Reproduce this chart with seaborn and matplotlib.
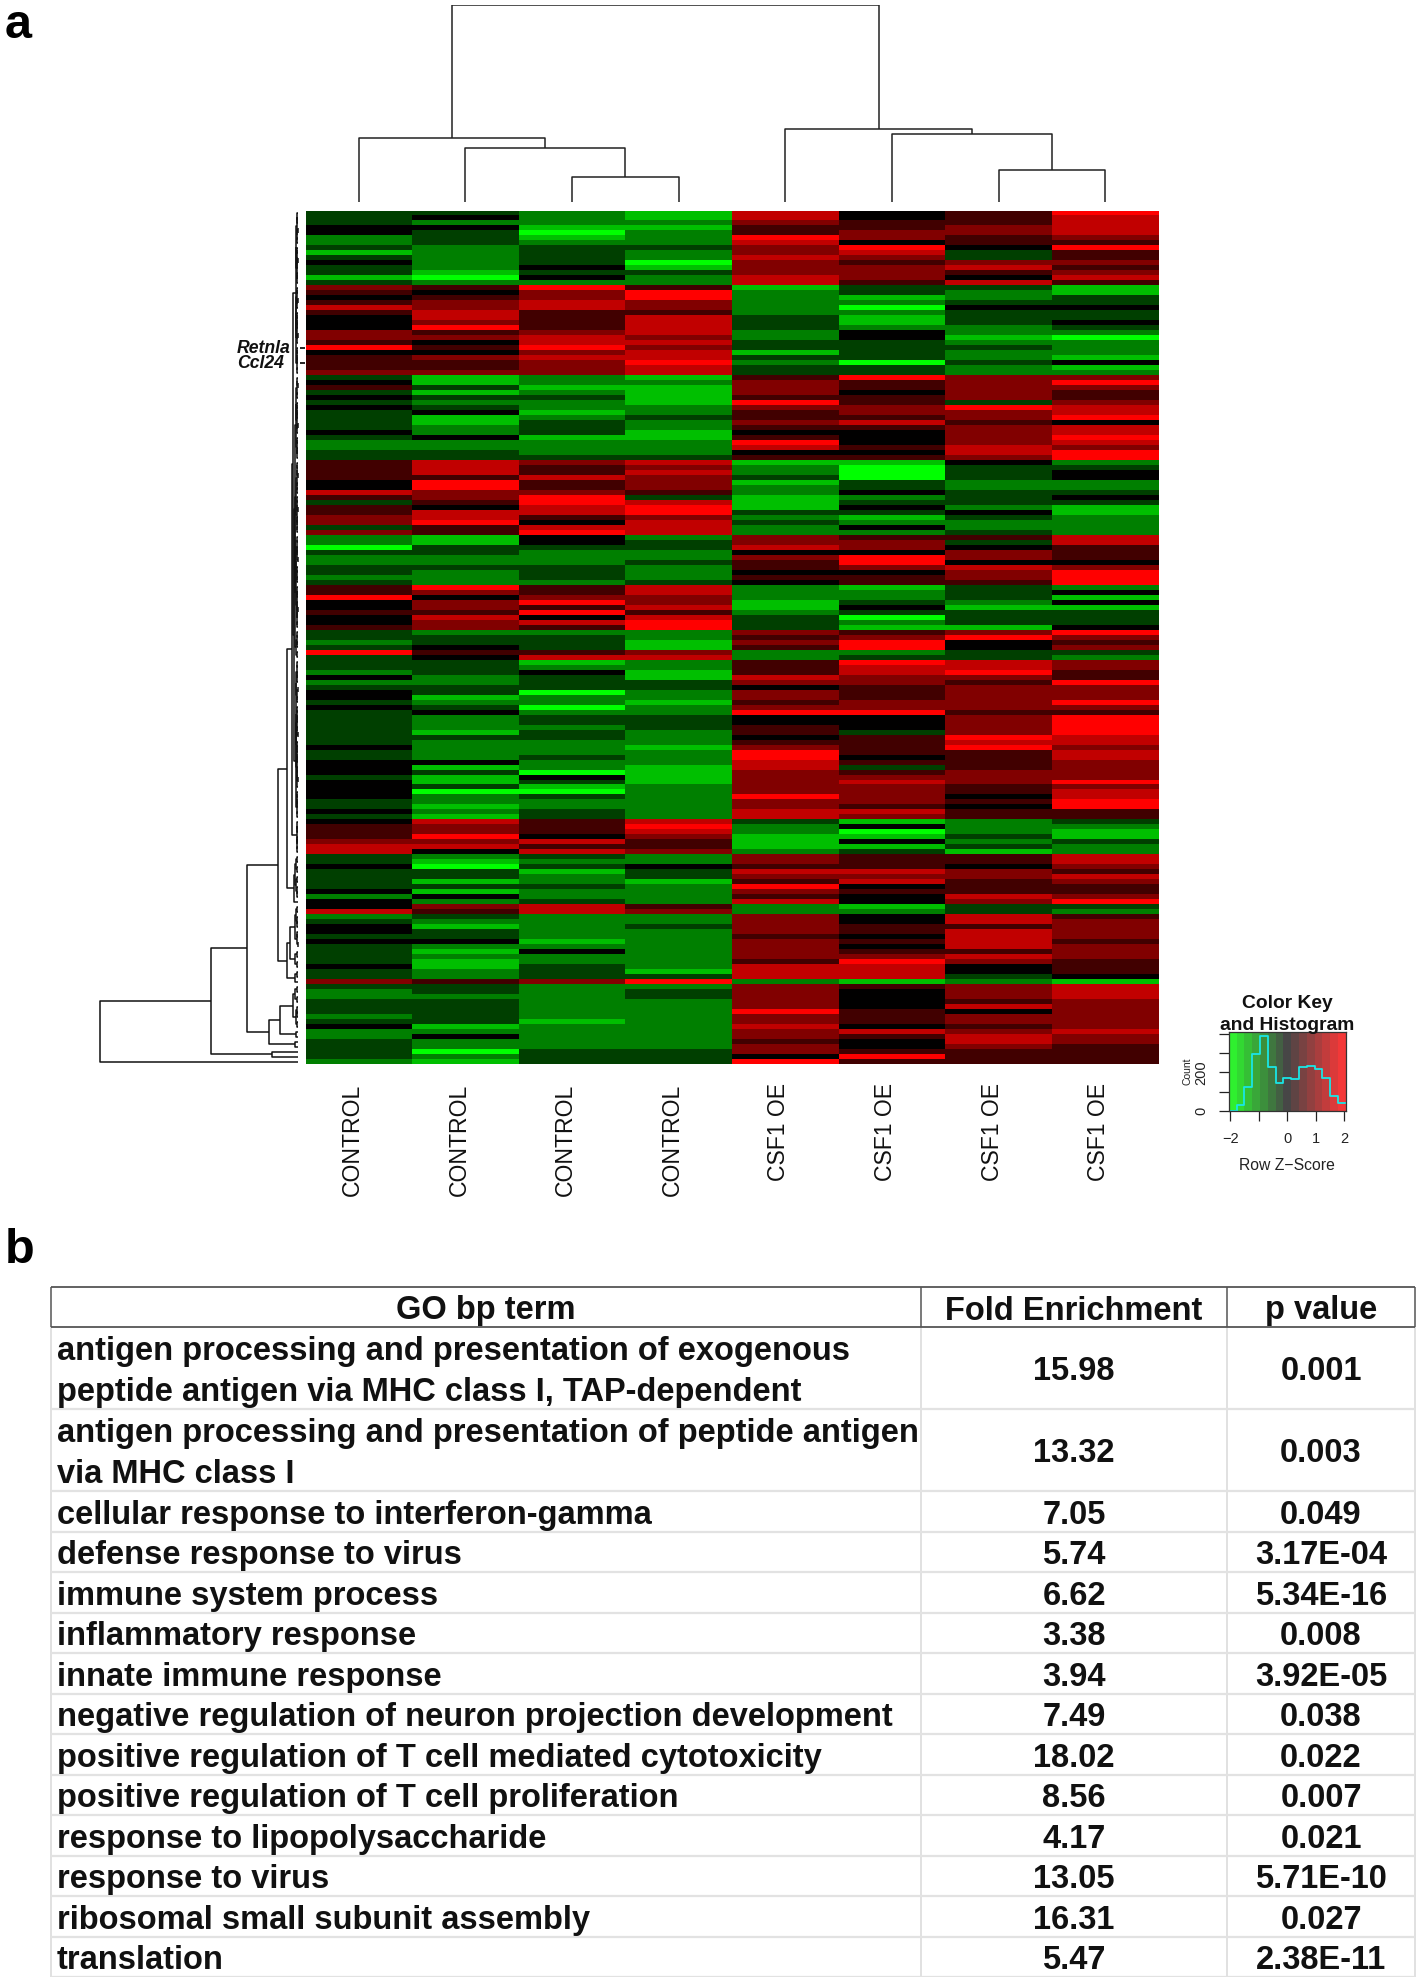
import matplotlib
matplotlib.use("Agg")
import matplotlib.pyplot as plt
from matplotlib.collections import LineCollection
from matplotlib.colors import LinearSegmentedColormap
from matplotlib.transforms import ScaledTranslation
import numpy as np
import pandas as pd
import seaborn as sns

# one digit per heatmap row, 0 = z -2 (green), 4 = z 0 (black), 8 = z +2 (red)
control_1 = (
    "333442231343313" "654575444665845556" "34534343333432233" "555544753556636"
    "2203223323" "558445445" "3323" "83"
    "3324234434" "3333333433" "4443444433" "43"
    "4555677" "3343333424" "47" "2344343333433" "6" "3223332342233332"
)
control_2 = (
    "342433322222102" "545667768564546556" "11313234112242233" "777588665477855"
    "1133223222" "864665766" "2334" "54"
    "3332233123" "4222132222" "4131130221" "21"
    "7668674" "2103313142" "65" "3213342121122" "5" "3323333312422021"
)
control_3 = (
    "222101233334342" "866775555677867666" "22123221233312223" "655755688775478"
    "4432223332" "556858475" "2333" "57"
    "1243330220" "2332332223" "2204310322" "33"
    "5554757" "3231223223" "77" "2222212422333" "6" "2222222122222333"
)
control_4 = (
    "112122232201322" "588665777767677877" "12111122322112223" "767666537886777"
    "2332232223" "776675788" "2211" "67"
    "2211332212" "2333222122" "2111122222" "22"
    "7876556" "2243312222" "56" "2232222222213" "8" "2332222222222333"
)
csf1_1 = (
    "776558766766677" "122222333223313233" "56665865565458745" "122312211132322"
    "6674655454" "222112333" "6565" "22"
    "5557646656" "8445545688" "7766666866" "77"
    "3221112" "6657658657" "22" "6666566665777" "2" "6666686676656648"
)
csf1_2 = (
    "445566487656665" "331202112443333033" "85545566575444545" "100033423431242"
    "5664886455" "122343021" "5688" "23"
    "8776655566" "8444355554" "5356766665" "76"
    "1401413" "5557674544" "12" "4455454568777" "1" "5444455547544585"
)
csf1_3 = (
    "555665543367547" "322343332212322322" "66666386656666776" "433322333243223"
    "5346647665" "333213331" "6844" "33"
    "7786566666" "5666687855" "5566655454" "55"
    "2223231" "5546655576" "33" "7757777576443" "2" "6665746656776555"
)
csf1_4 = (
    "877776585565675" "113343343202221412" "68655677847787688" "234422343112222"
    "7755546888" "241413334" "8656" "32"
    "6655866686" "5888877677" "6666867788" "55"
    "3211322" "7765765568" "32" "5666656665554" "1" "7776666667665555"
)
col_labels = ["CONTROL", "CONTROL", "CONTROL", "CONTROL", "CSF1 OE", "CSF1 OE", "CSF1 OE", "CSF1 OE"]

# dendrogram heights between neighbouring leaves
col_gaps = [64, 54, 25, 197, 73, 68, 32]
row_gaps = [
    1.0, 0.6, 1.4, 0.5, 1.1, 0.7, 1.8, 0.6, 1.2, 0.5, 0.9, 1.5, 0.7, 1.0, 2.5,
    0.8, 1.3, 0.5, 1.0, 1.7, 0.6, 1.1, 0.7, 1.4, 0.5, 0.9, 1.9, 0.6, 1.2, 0.8, 1.5, 0.7, 5.0,
    1.0, 0.5, 1.3, 0.7, 1.6, 0.6, 1.1, 0.8, 1.4, 0.5, 1.0, 1.8, 0.7, 1.2, 0.6, 0.9, 3.5,
    0.7, 1.2, 0.5, 1.5, 0.9, 0.6, 1.7, 0.8, 1.1, 0.5, 1.3, 0.7, 1.0, 0.6, 2.8,
    0.9, 1.4, 0.6, 1.0, 0.5, 1.6, 0.7, 1.1, 0.8, 2.2,
    1.2, 0.6, 1.5, 0.8, 0.5, 1.0, 1.3, 0.7, 3.0,
    0.8, 1.2, 0.6, 2.0,
    1.5, 4.0,
    0.9, 1.3, 0.6, 1.0, 1.6, 0.5, 1.2, 0.7, 1.9, 0.8, 1.1, 0.6, 1.4, 0.9, 0.5, 1.7,
    0.7, 1.0, 1.3, 0.6, 1.5, 0.8, 1.1, 0.5, 1.2, 2.0, 0.7, 1.0, 0.6, 1.4, 0.8, 6.0,
    1.0, 0.6, 1.4, 0.8, 1.1, 0.7, 11,
    1.2, 2.4, 0.7, 3.0, 1.0, 2.0, 1.5, 0.8, 4.2, 20,
    1.0, 2.0,
    1.0, 0.6, 3.2, 0.8, 1.5, 0.5, 8, 1.2, 3.4, 1.0, 11, 0.7, 3.0, 51,
    1.2, 3.0, 0.8, 5.5, 1.5, 0.7, 2.0, 1.0, 18, 2.0, 29, 3, 87, 26, 198,
]
marked_genes = ["Retnla", "Ccl24"]
marked_rows = [27, 30]

# colour key histogram
hist_edges = [-2.05, -1.78, -1.51, -1.23, -0.96, -0.68, -0.41, -0.14, 0.14, 0.41, 0.68, 0.96, 1.23, 1.51, 1.78, 2.05]
hist_counts = [0, 30, 125, 292, 386, 228, 146, 171, 163, 228, 233, 218, 170, 77, 43]

# table
table_header = ["GO bp term", "Fold Enrichment", "p value"]
go_terms = [
    "antigen processing and presentation of exogenous\npeptide antigen via MHC class I, TAP-dependent",
    "antigen processing and presentation of peptide antigen\nvia MHC class I",
    "cellular response to interferon-gamma",
    "defense response to virus",
    "immune system process",
    "inflammatory response",
    "innate immune response",
    "negative regulation of neuron projection development",
    "positive regulation of T cell mediated cytotoxicity",
    "positive regulation of T cell proliferation",
    "response to lipopolysaccharide",
    "response to virus",
    "ribosomal small subunit assembly",
    "translation",
]
fold_enrichment = ["15.98", "13.32", "7.05", "5.74", "6.62", "3.38", "3.94", "7.49", "18.02", "8.56", "4.17", "13.05", "16.31", "5.47"]
p_values = ["0.001", "0.003", "0.049", "3.17E-04", "5.34E-16", "0.008", "3.92E-05", "0.038", "0.022", "0.007", "0.021", "5.71E-10", "0.027", "2.38E-11"]

W, H = 1418, 1977


def px_axes(fig, x0, y0, x1, y1):
    return fig.add_axes([x0 / W, 1 - y1 / H, (x1 - x0) / W, (y1 - y0) / H])


def merge_segments(gaps, lo, hi):
    # leaves lo..hi, the largest gap between neighbours is the top merge
    if lo == hi:
        return lo + 0.5, 0, []
    split = lo + int(np.argmax(gaps[lo:hi]))
    pos_l, h_l, segs_l = merge_segments(gaps, lo, split)
    pos_r, h_r, segs_r = merge_segments(gaps, split + 1, hi)
    h = gaps[split]
    seg = [(pos_l, h_l), (pos_l, h), (pos_r, h), (pos_r, h_r)]
    return (pos_l + pos_r) / 2, h, segs_l + segs_r + [seg]


sns.set_theme(style="white")
plt.rcParams["font.family"] = ["Liberation Sans", "DejaVu Sans"]

fig = plt.figure(figsize=(W / 100, H / 100), dpi=100)

# heatmap
columns = [control_1, control_2, control_3, control_4, csf1_1, csf1_2, csf1_3, csf1_4]
z_df = pd.DataFrame({i: [(int(c) - 4) * 0.5 for c in col] for i, col in enumerate(columns)})
heat_cmap = LinearSegmentedColormap.from_list("gbr", ["#00ff00", "#000000", "#ff0000"])
ax = px_axes(fig, 305.5, 210.5, 1158.5, 1064)
sns.heatmap(z_df, ax=ax, cmap=heat_cmap, vmin=-2, vmax=2, cbar=False, xticklabels=col_labels, yticklabels=False)
ax.tick_params(axis="x", length=0, pad=14)
ax.set_xticklabels(col_labels, rotation=90, va="top", ha="center", fontsize=16.6, color="#111111")
for label in ax.get_xticklabels():
    label.set_transform(label.get_transform() + ScaledTranslation(-6.5 / 100, 0, fig.dpi_scale_trans))

# column dendrogram
ax_top = px_axes(fig, 305.5, 5, 1158.5, 202)
_, _, col_segs = merge_segments(col_gaps, 0, len(col_gaps))
ax_top.add_collection(LineCollection(col_segs, colors="#222222", linewidths=1.1))
ax_top.set_xlim(0, 8)
ax_top.set_ylim(0, 197)
ax_top.axis("off")

# row dendrogram
ax_left = px_axes(fig, 80, 210.5, 305.5, 1064)
_, _, row_segs = merge_segments(row_gaps, 0, len(row_gaps))
ax_left.add_collection(LineCollection([[(h, p) for p, h in s] for s in row_segs], colors="#111111", linewidths=1.1))
ax_left.set_xlim(218, -7.5)
ax_left.set_ylim(171, 0)
ax_left.axis("off")
for gene, row in zip(marked_genes, marked_rows):
    ax_left.hlines(row + 0.5, -6.5, -2, colors="black", linewidth=1.2)
    ax_left.text(61, row + 0.7, gene, fontsize=12.7, fontweight="bold", fontstyle="italic",
                 ha="left", va="center", color="#111111")

# colour key
key_cmap = LinearSegmentedColormap.from_list("key", ["#2dfb2d", "#464646", "#ff3737"])
hist_centers = [(a + b) / 2 for a, b in zip(hist_edges[:-1], hist_edges[1:])]
ax_key = px_axes(fig, 1229, 1032, 1345.7, 1111)
ax_key.pcolormesh(hist_edges, [0, 408], [hist_centers], cmap=key_cmap, vmin=-2.05, vmax=2.05)
sns.histplot(x=hist_centers, weights=hist_counts, bins=hist_edges, element="step", fill=False,
             color="#19e6e6", linewidth=1.3, ax=ax_key)
ax_key.set_xlim(-2.05, 2.05)
ax_key.set_ylim(0, 408)
ax_key.set_xticks([-2, -1, 0, 1, 2], ["\u22122", "", "0", "1", "2"], fontsize=10.5, color="#222222")
ax_key.set_yticks([0, 100, 200, 300, 400], ["0", "", "200", "", ""], fontsize=10.5, rotation=90, va="center", color="#222222")
ax_key.tick_params(length=7, width=0.9, color="#222222", pad=8, bottom=True, left=True)
ax_key.set_ylabel("Count", fontsize=7.5, labelpad=1, color="#222222")
ax_key.set_xlabel("Row Z\u2212Score", fontsize=11.3, labelpad=9, color="#222222")
for spine in ax_key.spines.values():
    spine.set_color("#333333")
    spine.set_linewidth(0.9)
fig.text(1287 / W, 1 - 1004 / H, "Color Key", fontsize=13.9, fontweight="bold", ha="center", va="center", color="#111111")
fig.text(1287 / W, 1 - 1026 / H, "and Histogram", fontsize=13.9, fontweight="bold", ha="center", va="center", color="#111111")

# panel letters
fig.text(5 / W, 1 - 38 / H, "a", fontsize=35, fontweight="bold", ha="left", va="baseline", color="black")
fig.text(5 / W, 1 - 1263 / H, "b", fontsize=35, fontweight="bold", ha="left", va="baseline", color="black")

# table, drawn in figure pixels
ax_tab = px_axes(fig, 0, 0, W, H)
ax_tab.set_xlim(0, W)
ax_tab.set_ylim(H, 0)
ax_tab.axis("off")
ax_tab.patch.set_alpha(0)
col_x = [51, 921, 1227, 1415]
top, header_bottom = 1287, 1327
one_line, two_lines = 40.5, 82
row_heights = [two_lines if "\n" in t else one_line for t in go_terms]
row_bottoms = header_bottom + np.cumsum(row_heights)
body_size = 23.5
text_shift = 4

ax_tab.vlines(col_x, header_bottom, row_bottoms[-1], colors="#dcdcdc", linewidth=1.2)
ax_tab.hlines(row_bottoms, col_x[0], col_x[-1], colors="#e2e2e2", linewidth=1.6)
ax_tab.vlines(col_x, top, header_bottom, colors="#555555", linewidth=1.1)
ax_tab.hlines([top, header_bottom], col_x[0], col_x[-1], colors="#555555", linewidth=1.3)

for j, name in enumerate(table_header):
    ax_tab.text((col_x[j] + col_x[j + 1]) / 2, (top + header_bottom) / 2 + text_shift, name, fontsize=body_size,
                fontweight="bold", ha="center", va="center", color="#111111")
y0 = header_bottom
for term, fold, p, y1 in zip(go_terms, fold_enrichment, p_values, row_bottoms):
    mid = (y0 + y1) / 2 + text_shift
    ax_tab.text(col_x[0] + 6, mid, term, fontsize=body_size, fontweight="bold", ha="left", va="center",
                linespacing=1.45, color="#111111")
    ax_tab.text((col_x[1] + col_x[2]) / 2, mid, fold, fontsize=body_size, fontweight="bold", ha="center", va="center", color="#111111")
    ax_tab.text((col_x[2] + col_x[3]) / 2, mid, p, fontsize=body_size, fontweight="bold", ha="center", va="center", color="#111111")
    y0 = y1

fig.savefig("out.png", dpi=100)
